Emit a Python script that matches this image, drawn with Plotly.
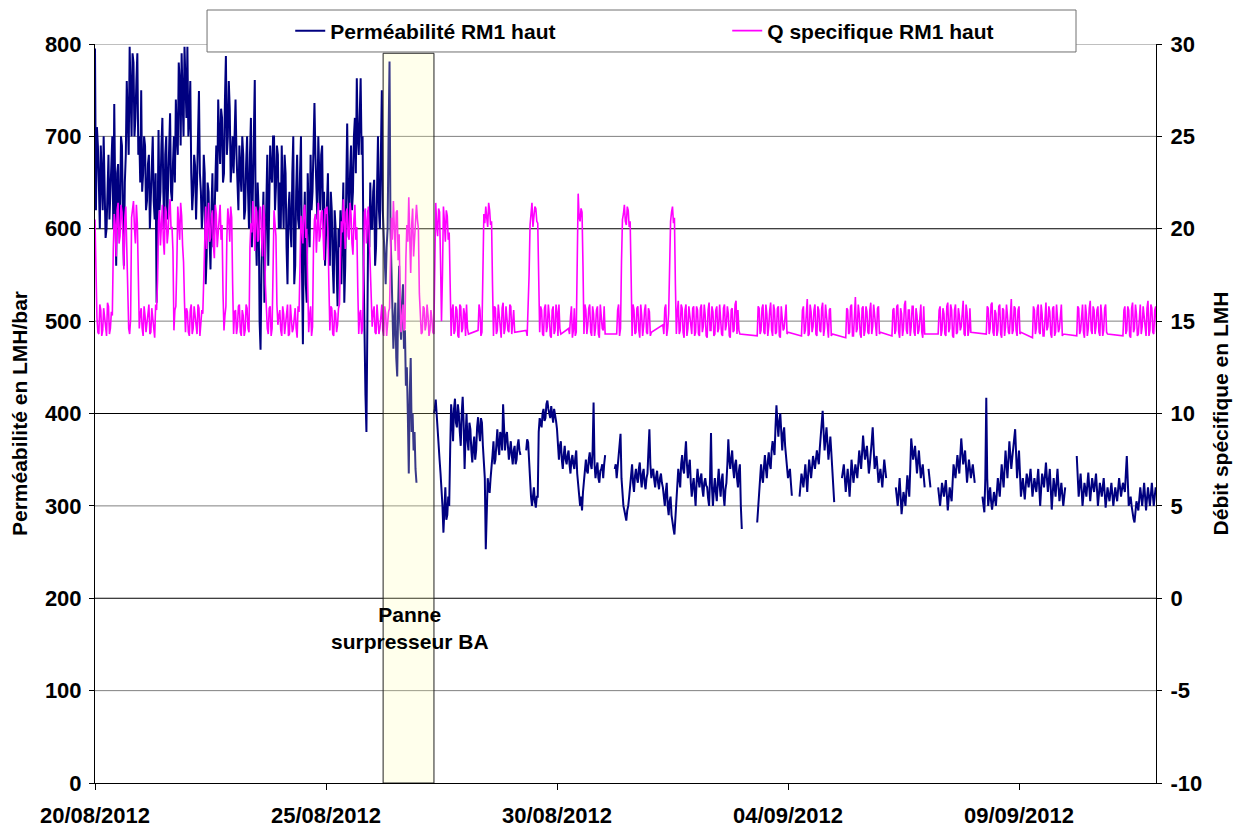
import pandas as pd
import plotly.graph_objects as go

START = "2012-08-20 00:00"
X_END = "2012-09-11 23:10"
N = None

# Perméabilité RM1 haut (LMH/bar), readings on the hour, one row per day
perm_aug20_25 = [
    795, 710, 650, 690, 620, 660, 600, 680, 640, 700, 735, 560, 670, 610, 690, 560, 680, 730, 797, 700, 780, 720, 790, 700,
    750, 660, 690, 630, 680, 640, 700, 610, 520, 707, 640, 720, 600, 700, 650, 725, 630, 700, 740, 680, 760, 790, 700, 760,
    797, 720, 660, 640, 668, 650, 749, 640, 620, 660, 570, 640, 556, 660, 600, 690, 740, 670, 720, 660, 787, 700, 730, 670,
    660, 740, 650, 690, 640, 680, 620, 700, 600, 720, 640, 761, 560, 620, 469, 600, 520, 640, 560, 690, 650, 700, 645, 680,
    650, 690, 600, 660, 540, 640, 580, 700, 560, 680, 600, 700, 475, 640, 520, 620, 680, 640, 736, 650, 700, 620, 690, 640,
    600, 660, 560, 620, 530, 600, 516, 580, 540, 650, 560, 714, 600, 690, 640, 720, 763, 680, 763, 700, 460, 380, 620, 650,
]
perm_aug26_31 = [
    600, 653, 580, 700, 600, 750, 590, 540, 600, 781, 550, 470, 520, 440, 560, 480, 540, 490, 450, 335, 460, 400, 380, 325,
    N, N, N, N, N, N, N, N, 400, 415, 380, 350, 320, 271, 320, 290, 300, 410, 370, 416, 385, 400, 365, 418,
    340, 400, 360, 383, 347, 375, 360, 396, 370, 390, 350, 253, 330, 314, 340, 370, 350, 383, 355, 375, 410, 360, 380, 350,
    370, 345, 365, 350, 372, 355, N, N, 360, 369, 330, 300, 320, 298, 310, 395, 385, 405, 395, 414, 400, 408, 390, 400,
    383, 350, 370, 340, 365, 345, 360, 335, 355, 340, 360, 320, 300, 295, 330, 350, 335, 358, 340, 412, 330, 347, 325, 340,
    330, 355, N, N, N, N, 340, 330, 350, 378, 310, 295, 284, 300, 320, 345, 315, 340, 325, 347, 320, 340, 318, 335,
]
perm_sep01_06 = [
    383, 330, 340, 320, 338, 318, 335, 320, 300, 325, 290, 310, 280, 269, 300, 340, 320, 355, 335, 370, 330, 350, 310, 330,
    300, 340, 320, 335, 310, 330, 320, 300, 379, 300, 330, 305, 340, 310, 335, 300, 325, 372, 340, 360, 330, 350, 320, 345,
    275, N, N, N, N, N, N, N, 282, 320, 345, 325, 355, 330, 358, 340, 370, 355, 409, 375, 400, 360, 385, 350,
    330, 340, 311, N, N, N, 310, 335, 320, 345, 315, 350, 330, 354, 340, 360, 345, 380, 403, 360, 385, 350, 375, 340,
    304, N, N, N, 330, 345, 315, 340, 310, 350, 325, 345, 330, 360, 340, 376, 350, 365, 335, 355, 385, 340, 354, 325,
    340, 320, 350, 330, N, N, N, N, 320, 300, 330, 291, 315, 300, 333, 310, 373, 350, 365, 335, 360, 330, 345, 320,
]
perm_sep07_11 = [
    N, 340, 320, N, N, N, 320, 300, 325, 310, 328, 295, 320, 305, 345, 330, 355, 335, 373, 345, 360, 325, 350, 330,
    345, 325, N, N, N, 310, 293, 417, 300, 320, 296, 315, 300, 330, 310, 345, 320, 360, 330, 370, 340, 365, 383, 330,
    360, 310, 330, 307, 335, 320, 340, 310, 330, 315, 340, 300, 335, 320, 347, 315, 340, 296, 330, 310, 340, 305, 325, 300,
    320, N, N, N, N, N, 354, 310, 335, 300, 325, 310, 336, 305, 330, 315, 335, 300, 325, 310, 330, 298, 320, 305,
    325, 300, 320, 305, 330, 310, 325, 315, 354, 300, 310, 290, 282, 305, 295, 320, 300, 325, 295, 320, 300, 325, 300, 320,
]
# Perméabilité readings at half past each hour
perm_half_aug20_25 = [
    620, 690, 600, 640, 700, 590, 650, 610, 690, 600, 640, 660, 600, 700, 620, 650, 760, 680, 740, 790, 700, 760, 680, 650,
    640, 700, 620, 670, 600, 690, 630, 660, 600, 620, 690, 640, 680, 610, 700, 640, 670, 650, 700, 780, 690, 740, 797, 720,
    700, 760, 620, 680, 610, 700, 660, 600, 680, 540, 650, 590, 620, 580, 650, 640, 700, 730, 650, 740, 680, 760, 650, 700,
    700, 680, 620, 660, 700, 610, 670, 640, 680, 580, 700, 600, 650, 500, 560, 640, 590, 680, 620, 660, 700, 620, 690, 600,
    600, 640, 680, 580, 620, 600, 660, 540, 640, 610, 660, 560, 600, 540, 660, 580, 620, 700, 680, 610, 660, 680, 600, 560,
    640, 580, 640, 560, 620, 560, 600, 620, 600, 520, 640, 640, 660, 620, 700, 660, 700, 720, 680, 560, 420, 560, 580, 600,
]
perm_half_aug26_31 = [
    640, 560, 640, 620, 680, 620, 560, 580, 700, 600, 500, 500, 460, 520, 500, 520, 470, 430, 400, 420, 380, 360, 340, N,
    N, N, N, N, N, N, N, N, 405, 395, 360, 335, 300, 300, 285, 310, 360, 395, 405, 390, 410, 380, 400, 390,
    375, 370, 390, 360, 365, 350, 385, 380, 395, 365, 330, 300, 320, 330, 355, 345, 370, 365, 380, 360, 385, 375, 365, 360,
    355, 360, 345, 365, 360, N, N, N, 372, 345, 310, 315, 305, 310, 380, 390, 400, 392, 410, 405, 395, 398, 405, 392,
    360, 365, 350, 355, 350, 355, 345, 350, 345, 352, 335, 305, 310, 315, 342, 338, 350, 345, 360, 345, 340, 330, 338, 345,
    345, N, N, N, N, N, 345, 342, 360, 330, 300, 290, 295, 310, 330, 325, 332, 330, 340, 330, 335, 325, 330, 360,
]
perm_half_sep01_06 = [
    345, 338, 328, 332, 325, 330, 325, 310, 315, 300, 305, 290, 275, 285, 322, 330, 345, 340, 355, 345, 342, 325, 322, 315,
    325, 328, 330, 318, 325, 322, 308, 330, 320, 318, 315, 325, 322, 328, 312, 318, 345, 350, 352, 340, 345, 330, 338, 300,
    N, N, N, N, N, N, N, N, 300, 335, 332, 342, 340, 348, 345, 360, 362, 385, 390, 392, 380, 378, 365, 338,
    335, 325, N, N, N, N, 322, 328, 332, 330, 335, 340, 342, 347, 350, 352, 362, 395, 380, 372, 368, 362, 358, 322,
    N, N, N, N, 338, 330, 328, 325, 330, 338, 335, 338, 345, 350, 358, 362, 358, 350, 345, 370, 362, 347, 340, 332,
    330, 335, 340, N, N, N, N, N, 310, 315, 310, 303, 308, 316, 322, 340, 362, 357, 350, 348, 345, 338, 332, N,
]
perm_half_sep07_11 = [
    N, 330, N, N, N, N, 310, 312, 318, 319, 312, 308, 312, 325, 338, 342, 345, 354, 359, 352, 342, 338, 340, 338,
    335, N, N, N, N, 300, 330, 330, 310, 305, 305, 308, 315, 320, 328, 332, 340, 345, 350, 355, 352, 374, 356, 345,
    335, 320, 318, 322, 328, 330, 325, 320, 322, 328, 320, 318, 328, 333, 330, 328, 318, 313, 320, 325, 322, 315, 312, 310,
    N, N, N, N, N, N, 332, 322, 318, 312, 318, 323, 320, 318, 322, 325, 318, 312, 318, 320, 314, 309, 312, 315,
    312, 310, 312, 318, 320, 318, 320, 335, 327, 305, 300, 286, 293, 300, 308, 310, 312, 310, 308, 310, 312, 312, 310, 315,
]

# Q specifique RM1 haut (LMH), readings on the hour, one row per day
q_aug20_25 = [
    20.5, 15.2, 14.3, 15.6, 14.5, 15.1, 14.2, 15.8, 14.6, 15.3, 20.8, 18.5, 21.4, 19.6, 20.9, 17.8, 21.2, 15.4, 14.3, 20.6, 21.5, 19.2, 20.3, 14.6,
    15.7, 14.2, 15.3, 14.8, 15.9, 14.4, 15.2, 14.1, 15.6, 20.4, 19.1, 21.3, 18.6, 20.9, 19.8, 21.6, 20.1, 14.5, 15.8, 21.2, 19.4, 20.7, 18.2, 14.4,
    15.5, 14.2, 15.9, 14.6, 15.2, 14.3, 15.7, 14.9, 15.4, 20.6, 18.9, 21.4, 19.5, 21.0, 18.4, 20.8, 19.7, 21.3, 20.2, 14.5, 15.8, 21.1, 19.3, 20.6,
    14.3, 15.6, 14.7, 15.9, 14.2, 15.3, 14.5, 15.7, 14.4, 20.3, 21.5, 18.8, 20.9, 19.4, 21.2, 18.5, 20.6, 15.2, 14.3, 15.8, 14.6, 21.0, 19.6, 14.8,
    15.6, 14.2, 15.4, 14.9, 15.9, 14.3, 15.2, 14.6, 15.7, 14.1, 15.5, 20.7, 19.2, 21.3, 20.0, 14.4, 15.8, 14.7, 20.5, 18.7, 21.4, 19.6, 21.0, 18.3,
    20.8, 19.9, 14.5, 15.7, 14.2, 15.4, 14.8, 15.9, 20.4, 21.6, 18.9, 21.1, 19.4, 20.8, 18.6, 21.3, 20.1, 14.3, 15.6, 14.6, 20.9, 19.2, 21.2, 18.1,
]
q_aug26_31 = [
    14.7, 15.8, 14.3, 15.2, 14.6, 15.9, 14.2, 15.4, 14.9, 15.7, 20.6, 21.5, 18.8, 21.0, 19.7, 14.4, 15.9, 14.6, 20.2, 21.7, 17.6, 21.1, 19.4, 21.3,
    20.0, 15.2, 14.4, 15.7, 14.8, 15.3, 14.5, 15.1, 14.3, 21.4, 19.6, 20.9, 15.0, 21.2, 19.3, 20.7, 19.8, 14.2, 15.9, 14.5, 15.6, 14.1, 15.8, 14.6,
    15.4, 15.9, 14.3, N, N, N, N, 14.5, 15.6, 14.4, 20.8, 21.2, 20.1, 21.0, 20.4, 14.2, 15.7, 14.5, 15.3, 14.1, 16.0, 14.6, 15.2, 14.4,
    15.8, 14.9, 14.4, N, N, N, N, N, 14.5, 15.7, 20.2, 21.4, 20.6, 21.1, 20.3, 14.4, 15.6, 14.2, 15.9, 14.7, 15.3, 14.1, 15.8, 14.5,
    15.5, 15.9, 14.3, N, N, N, 14.6, 15.2, 14.1, 15.7, 14.4, 21.9, 20.4, 20.9, 14.3, 15.6, 14.8, 15.9, 14.2, 15.4, 14.6, 15.8, 14.1, 15.3,
    14.5, 14.3, N, N, N, N, N, 14.3, 15.9, 14.6, 20.5, 21.3, 20.2, 21.0, 20.4, 14.2, 15.6, 14.4, 15.8, 14.1, 15.3, 14.7, 15.9, 14.3,
]
q_sep01_06 = [
    15.5, 14.4, N, N, N, N, N, 14.8, 15.7, 14.2, 15.4, 20.4, 21.2, 20.6, 14.3, 16.1, 14.5, 15.7, 14.1, 15.9, 14.6, 15.2, 14.3, 15.8,
    14.4, 15.6, 14.2, 15.9, 14.7, 15.3, 14.1, 16.0, 14.5, 15.5, 14.3, 15.8, 14.6, 15.2, 14.2, 15.9, 14.8, 15.4, 14.1, 15.7, 14.5, 16.1, 15.6, 14.3,
    N, N, N, N, N, N, N, N, 14.2, 15.7, 14.5, 15.9, 14.3, 15.4, 14.7, 16.0, 14.2, 15.6, 14.4, 15.8, 14.1, 15.3, 14.6, 15.9,
    14.4, N, N, N, N, N, N, 14.2, 15.8, 14.5, 16.2, 14.3, 15.5, 14.7, 15.9, 14.2, 15.6, 14.4, 16.0, 14.6, 15.3, 14.1, 15.7, 14.3,
    N, N, N, N, N, N, 14.1, 15.6, 14.4, 15.9, 14.2, 16.3, 14.6, 15.4, 14.1, 15.8, 14.5, 15.5, 14.3, 16.0, 14.7, 15.2, 14.2, 15.8,
    14.4, N, N, N, N, N, 14.2, 15.7, 14.5, 15.9, 14.1, 15.4, 14.6, 16.1, 14.3, 15.6, 14.7, 15.8, 14.2, 15.3, 14.5, 15.9, 14.1, 14.3,
]
q_sep07_11 = [
    N, N, N, N, N, N, 14.3, 15.8, 14.5, 15.4, 14.2, 16.0, 14.6, 15.6, 14.1, 15.9, 14.4, 15.3, 14.7, 16.1, 14.2, 15.5, 14.5, 14.4,
    N, N, N, N, N, N, N, 14.3, 15.7, 14.6, 16.0, 14.2, 15.4, 14.5, 15.9, 14.1, 15.6, 14.7, 15.3, 14.3, 16.2, 14.5, 15.7, 14.2,
    15.8, 14.4, N, N, N, N, N, 14.1, 15.6, 14.6, 15.9, 14.3, 15.4, 14.2, 16.0, 14.7, 15.5, 14.1, 15.8, 14.4, 15.3, 14.6, 15.9, 14.3,
    N, N, N, N, N, N, 14.2, 15.7, 14.5, 15.9, 14.1, 15.4, 14.6, 16.1, 14.3, 15.6, 14.7, 15.8, 14.2, 15.3, 14.5, 15.9, 14.3, N,
    N, N, N, N, N, N, 14.2, 15.8, 14.5, 15.6, 14.1, 16.0, 14.6, 15.4, 14.3, 15.9, 14.7, 15.3, 14.2, 16.1, 14.5, 15.7, 14.3, 15.8,
]
# Q specifique readings at half past each hour
q_half_aug20_25 = [
    17.0, 14.4, 15.9, 14.2, 15.7, 14.6, 16.0, 14.3, 15.5, 18.9, 20.2, 21.0, 19.2, 21.3, 19.5, 20.6, 19.0, 14.6, 15.1, 21.0, 20.0, 21.3, 17.5, 15.4,
    14.6, 15.8, 14.4, 15.5, 14.3, 15.7, 14.5, 15.9, 17.2, 21.0, 20.2, 19.4, 21.2, 19.2, 21.0, 20.0, 18.8, 15.6, 18.0, 20.3, 21.4, 19.1, 16.0, 15.7,
    14.4, 15.6, 14.3, 15.8, 14.5, 15.9, 14.2, 15.6, 18.0, 21.2, 20.1, 19.3, 20.7, 19.1, 21.3, 19.0, 20.9, 19.4, 16.5, 15.3, 19.5, 20.5, 21.2, 17.0,
    15.5, 14.3, 15.8, 14.4, 15.6, 14.2, 15.9, 14.6, 19.0, 19.8, 20.1, 21.2, 19.3, 21.0, 19.6, 21.3, 17.0, 14.6, 15.7, 14.2, 18.5, 20.3, 15.9, 15.3,
    14.5, 15.8, 14.3, 15.6, 14.2, 15.9, 14.4, 15.3, 14.6, 15.8, 18.0, 20.1, 21.0, 19.5, 17.0, 15.3, 14.2, 19.0, 20.8, 20.0, 19.3, 20.9, 19.7, 21.1,
    21.2, 17.0, 15.8, 14.3, 15.6, 14.4, 15.7, 18.5, 19.8, 20.3, 20.9, 19.6, 21.4, 19.2, 20.5, 19.4, 16.8, 15.4, 14.3, 18.0, 21.1, 20.4, 19.5, 16.0,
]
q_half_aug26_31 = [
    15.5, 14.4, 15.9, 14.3, 15.6, 14.5, 15.8, 14.2, 15.5, 17.8, 19.4, 20.1, 20.9, 18.3, 16.2, 15.2, 14.5, 18.4, 19.3, 19.6, 20.2, 18.5, 21.0, 20.5,
    16.5, 14.3, 15.8, 14.5, 15.9, 14.2, 15.6, 14.4, 18.0, 20.2, 21.1, 18.2, 17.5, 20.4, 21.0, 19.4, 17.0, 15.6, 14.3, 15.8, 14.2, 15.9, 14.4, 15.7,
    14.2, 14.6, N, N, N, N, N, 15.9, 14.2, 18.0, 20.3, 20.6, 21.4, 20.2, 17.0, 15.8, 14.3, 15.9, 14.4, 15.7, 14.3, 15.8, 14.5, 15.9,
    14.3, 15.6, N, N, N, N, N, N, 14.2, 17.5, 20.9, 20.1, 21.2, 20.4, 18.0, 15.8, 14.3, 15.7, 14.4, 15.9, 14.2, 15.6, 14.3, 15.9,
    14.2, 14.6, N, N, N, N, 14.3, 15.8, 14.5, 14.2, 19.5, 20.6, 21.1, 18.0, 15.9, 14.3, 15.7, 14.4, 15.8, 14.2, 15.6, 14.3, 15.9, 14.6,
    15.8, N, N, N, N, N, N, 15.6, 14.2, 18.2, 20.8, 20.4, 21.2, 20.1, 17.5, 15.9, 14.3, 15.7, 14.5, 15.9, 14.2, 15.6, 14.4, 15.7,
]
q_half_sep01_06 = [
    14.2, N, N, N, N, N, N, 14.3, 15.9, 14.6, 18.5, 20.9, 20.3, 17.0, 15.5, 14.3, 15.9, 14.4, 15.6, 14.2, 15.8, 14.5, 15.7, 14.2,
    15.8, 14.3, 15.7, 14.4, 15.9, 14.2, 15.6, 14.5, 15.8, 14.2, 15.6, 14.4, 15.9, 14.3, 15.7, 14.5, 15.8, 14.2, 15.6, 14.4, 15.9, 14.3, 14.5, N,
    N, N, N, N, N, N, N, N, 15.8, 14.3, 15.7, 14.4, 15.9, 14.2, 15.6, 14.5, 15.9, 14.3, 15.7, 14.2, 15.8, 14.5, 15.6, 14.3,
    N, N, N, N, N, N, N, 15.6, 14.3, 15.8, 14.2, 15.9, 14.4, 15.6, 14.3, 15.8, 14.5, 15.7, 14.2, 15.9, 14.4, 15.6, 14.2, N,
    N, N, N, N, N, N, 15.7, 14.3, 15.8, 14.2, 15.6, 14.4, 15.9, 14.3, 15.7, 14.2, 15.8, 14.4, 15.6, 14.3, 15.9, 14.5, 15.7, 14.3,
    N, N, N, N, N, N, 15.6, 14.3, 15.8, 14.4, 15.7, 14.2, 15.9, 14.5, 15.6, 14.2, 15.8, 14.4, 15.7, 14.3, 15.6, 14.4, 15.8, N,
]
q_half_sep07_11 = [
    N, N, N, N, N, N, 15.6, 14.2, 15.7, 14.3, 15.8, 14.4, 15.9, 14.2, 15.6, 14.3, 15.7, 14.5, 15.8, 14.3, 15.9, 14.2, 15.7, N,
    N, N, N, N, N, N, N, 15.8, 14.3, 15.9, 14.4, 15.6, 14.2, 15.8, 14.3, 15.7, 14.2, 15.9, 14.4, 15.6, 14.3, 15.8, 14.5, 15.6,
    14.3, N, N, N, N, N, N, 15.8, 14.3, 15.7, 14.4, 15.9, 14.2, 15.6, 14.5, 15.8, 14.3, 15.7, 14.2, 15.9, 14.4, 15.6, 14.2, N,
    N, N, N, N, N, N, 15.8, 14.3, 15.6, 14.4, 15.9, 14.2, 15.7, 14.5, 15.8, 14.3, 15.6, 14.4, 15.9, 14.2, 15.7, 14.4, N, N,
    N, N, N, N, N, N, 15.6, 14.3, 15.8, 14.2, 15.7, 14.4, 15.9, 14.2, 15.6, 14.3, 15.8, 14.5, 15.7, 14.2, 15.9, 14.4, 15.6, 14.4,
]

XTICKS = ["2012-08-20", "2012-08-25", "2012-08-30", "2012-09-04", "2012-09-09"]
LEFT_TICKS = [0, 100, 200, 300, 400, 500, 600, 700, 800]
RIGHT_TICKS = [-10, -5, 0, 5, 10, 15, 20, 25, 30]
RIGHT_TICK_TEXT = ["-10", "-5", "0", "5", "10", "15", "20", "25", "30"]
GRID_DARK = [200, 400, 600]
GRID_GREY = [100, 300, 500, 700, 800]

PANNE_START = "2012-08-26 05:40"
PANNE_END = "2012-08-27 08:05"
PANNE_TOP = 790
PANNE_LABEL = "Panne<br>surpresseur BA"
PANNE_LABEL_X = "2012-08-26 19:30"
PANNE_LABEL_Y = 168


def merge(on_hour, half_past):
    t_hour = pd.date_range(START, periods=len(on_hour), freq="h")
    t_half = t_hour + pd.Timedelta(minutes=30)
    df = pd.concat([pd.DataFrame({"t": t_hour, "v": on_hour}),
                    pd.DataFrame({"t": t_half, "v": half_past})]).sort_values("t")
    return df["t"], [None if pd.isna(v) else v for v in df["v"]]


perm_t, perm = merge(perm_aug20_25 + perm_aug26_31 + perm_sep01_06 + perm_sep07_11,
                     perm_half_aug20_25 + perm_half_aug26_31 + perm_half_sep01_06 + perm_half_sep07_11)
q_t, q = merge(q_aug20_25 + q_aug26_31 + q_sep01_06 + q_sep07_11,
               q_half_aug20_25 + q_half_aug26_31 + q_half_sep01_06 + q_half_sep07_11)

FONT = "Liberation Sans, Arial, sans-serif"
tick_font = dict(family=FONT, size=22, color="black", weight="bold")
text_font = dict(family=FONT, size=21, color="black", weight="bold")

fig = go.Figure()
fig.add_trace(go.Scatter(
    x=perm_t, y=perm, name="Perméabilité RM1 haut", mode="lines",
    line=dict(color="#000080", width=2.0), connectgaps=False,
))
fig.add_trace(go.Scatter(
    x=q_t, y=q, name="Q specifique RM1 haut", mode="lines", yaxis="y2",
    line=dict(color="#FF00FF", width=1.6), connectgaps=True,
))

shapes = []
for v in GRID_DARK:
    shapes.append(dict(type="line", xref="paper", yref="y", x0=0, x1=1, y0=v, y1=v,
                       line=dict(color="black", width=1), layer="below"))
for v in GRID_GREY:
    shapes.append(dict(type="line", xref="paper", yref="y", x0=0, x1=1, y0=v, y1=v,
                       line=dict(color="#808080", width=1), layer="below"))
shapes.append(dict(type="rect", xref="x", yref="y", x0=PANNE_START, x1=PANNE_END, y0=0, y1=PANNE_TOP,
                   fillcolor="rgb(255,255,170)", opacity=0.22, line=dict(width=0), layer="above"))
shapes.append(dict(type="rect", xref="x", yref="y", x0=PANNE_START, x1=PANNE_END, y0=0, y1=PANNE_TOP,
                   fillcolor="rgba(0,0,0,0)", line=dict(color="#222222", width=1), layer="above"))
shapes.append(dict(type="rect", xref="paper", yref="paper", x0=0.1056, x1=0.9246, y0=0.9892, y1=1.046,
                   fillcolor="white", line=dict(color="#707070", width=1), layer="above"))

# the page body adds an 8 px offset, so the figure is 8 px smaller on each leading edge
fig.update_layout(
    width=1240, height=821,
    margin=dict(l=87, r=92, t=36, b=46, autoexpand=False),
    paper_bgcolor="white", plot_bgcolor="white",
    font=dict(family=FONT, size=21, color="black"),
    showlegend=True,
    legend=dict(orientation="h", x=0.184, xanchor="left", y=1.0176, yanchor="middle",
                bgcolor="rgba(0,0,0,0)", font=text_font, entrywidth=392, entrywidthmode="pixels",
                itemwidth=30, borderwidth=0),
    xaxis=dict(type="date", range=[START, X_END], tickvals=XTICKS, tickformat="%d/%m/%Y",
               ticks="outside", ticklen=6, tickcolor="black", showline=True, linecolor="black",
               linewidth=1, showgrid=False, zeroline=False, tickfont=tick_font, ticklabelstandoff=7,
               automargin=False),
    yaxis=dict(range=[0, 800], tickvals=LEFT_TICKS, ticks="outside", ticklen=5, tickcolor="black",
               showline=True, linecolor="black", linewidth=1, showgrid=False, zeroline=False,
               tickfont=tick_font, ticklabelstandoff=3, automargin=False,
               title=dict(text="Perméabilité en LMH/bar", font=text_font, standoff=12)),
    yaxis2=dict(range=[-10, 30], tickvals=RIGHT_TICKS, ticktext=RIGHT_TICK_TEXT, overlaying="y",
                side="right", ticks="outside", ticklen=5, tickcolor="black", showline=True,
                linecolor="black", linewidth=1, showgrid=False, zeroline=False, tickfont=tick_font,
                ticklabelstandoff=4, automargin=False,
                title=dict(text="Débit spécifique en LMH", font=text_font, standoff=12)),
    shapes=shapes,
    annotations=[dict(text=PANNE_LABEL, x=PANNE_LABEL_X, y=PANNE_LABEL_Y, xref="x", yref="y",
                      showarrow=False, font=text_font, align="center")],
)

fig.write_html("out.html")
